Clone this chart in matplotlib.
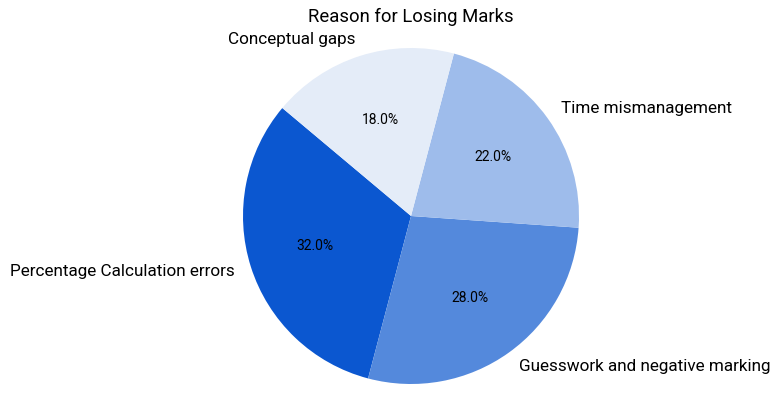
import numpy as np
import matplotlib.pyplot as plt

plt.rcParams['font.family'] = ['Roboto', 'DejaVu Sans']

labels = ['Percentage Calculation errors', 'Guesswork and negative marking',
          'Time mismanagement', 'Conceptual gaps']
sizes = [32, 28, 22, 18]
colors = ['#0b57d0', '#5489dc', '#9ebceb', '#e4ecf8']

fig = plt.figure(figsize=(7.8, 4.11), dpi=100)
ax = fig.add_axes([0, 0, 1, 1])
ax.pie(sizes, labels=labels, colors=colors, autopct='%1.1f%%', startangle=140,
       textprops={'fontsize': 12.3, 'color': 'black'})
for t in ax.texts:
    if t.get_text().endswith('%'):
        t.set_fontsize(10)

# place pie: centre at (411, 195) px, radius 168 px
r = 168.0
ax.set_xlim(-411 / r, (780 - 411) / r)
ax.set_ylim(-195 / r, (411 - 195) / r)
ax.set_aspect('auto')
ax.axis('off')
fig.text(411 / 780, 1 - 17 / 411, 'Reason for Losing Marks', ha='center', va='center',
         fontsize=13.3, color='black')

fig.savefig('out.png', dpi=100)
